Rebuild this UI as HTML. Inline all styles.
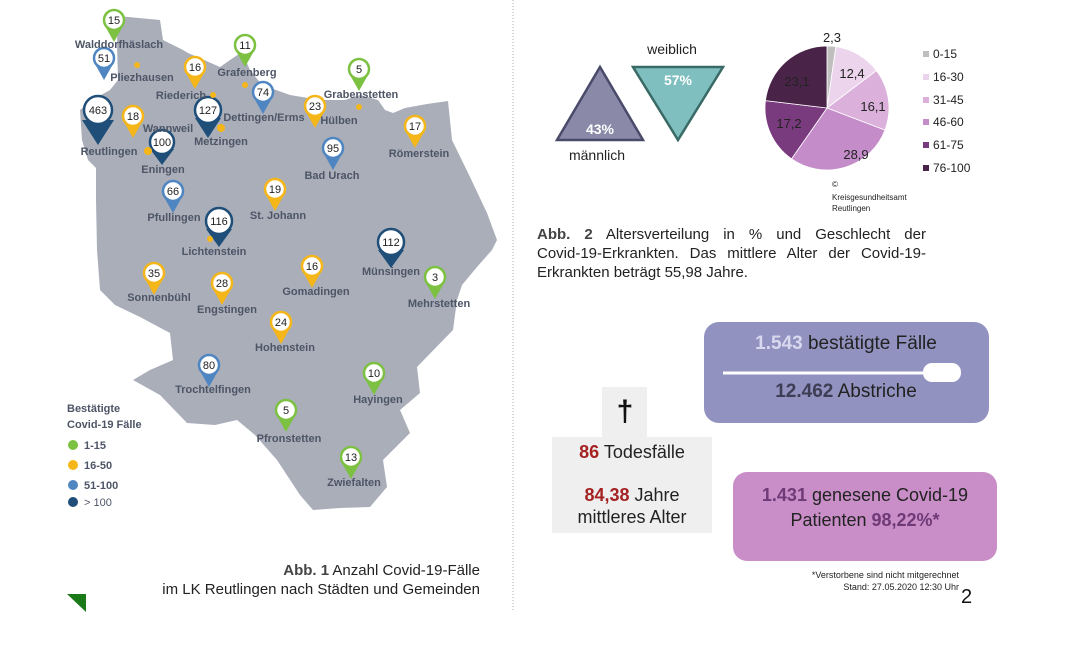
<!DOCTYPE html>
<html><head><meta charset="utf-8"><style>
html,body{margin:0;padding:0;background:#fff;}
svg{display:block;font-family:"Liberation Sans",sans-serif;}
.lb{font-weight:bold;font-size:11px;fill:#4d5566;text-anchor:middle;}
.pn{font-size:11px;fill:#222;text-anchor:middle;}
.cap{position:absolute;left:537px;top:225px;width:389px;font-family:"Liberation Sans",sans-serif;font-size:15px;line-height:19px;color:#222;margin:0;}
.cap div{text-align:justify;text-align-last:justify;white-space:nowrap;}
.cap div.l{text-align-last:left;}
</style></head><body>
<div style="position:relative;width:1073px;height:651px;">
<svg width="1073" height="651" viewBox="0 0 1073 651" xmlns="http://www.w3.org/2000/svg">
<rect width="1073" height="651" fill="#fff"/>
<polygon fill="#a9aeb9" points="118,16 160,20 163,40 183,50 188,53 220,67 230,60 242,52 250,70 262,85 290,95 320,100 345,100 360,95 378,100 385,110 393,113 405,108 427,104 448,101 452,140 470,177 487,213 497,240 492,250 477,267 462,285 457,300 453,330 417,367 420,393 400,410 410,433 383,460 387,487 370,507 340,508 313,510 300,495 277,460 255,435 237,420 215,425 187,423 160,395 133,380 150,370 173,360 170,333 140,317 115,305 100,290 97,250 96,200 96,168 88,160 82,140 80,110 92,100 110,90 118,80 117,43"/>
<line x1="513" y1="0" x2="513" y2="612" stroke="#aaa" stroke-dasharray="1,2"/>
<g stroke-width="2.5">
<g><path d="M105,26 L114,42 L123,26Z" fill="#7cc142"/><circle cx="114" cy="20" r="10" fill="#fff" stroke="#7cc142"/><text x="114" y="24" class="pn">15</text></g>
<g><path d="M95,64 L104,80 L113,64Z" fill="#4f86c1"/><circle cx="104" cy="58" r="10" fill="#fff" stroke="#4f86c1"/><text x="104" y="62" class="pn">51</text></g>
<g><path d="M186,73 L195,89 L204,73Z" fill="#f5b619"/><circle cx="195" cy="67" r="10" fill="#fff" stroke="#f5b619"/><text x="195" y="71" class="pn">16</text></g>
<g><path d="M236,51 L245,67 L254,51Z" fill="#7cc142"/><circle cx="245" cy="45" r="10" fill="#fff" stroke="#7cc142"/><text x="245" y="49" class="pn">11</text></g>
<g><path d="M350,75 L359,91 L368,75Z" fill="#7cc142"/><circle cx="359" cy="69" r="10" fill="#fff" stroke="#7cc142"/><text x="359" y="73" class="pn">5</text></g>
<g><path d="M254,98 L263,114 L272,98Z" fill="#4f86c1"/><circle cx="263" cy="92" r="10" fill="#fff" stroke="#4f86c1"/><text x="263" y="96" class="pn">74</text></g>
<g><path d="M306,112 L315,128 L324,112Z" fill="#f5b619"/><circle cx="315" cy="106" r="10" fill="#fff" stroke="#f5b619"/><text x="315" y="110" class="pn">23</text></g>
<g><path d="M195,118 L208,138 L221,118Z" fill="#1f4e79"/><circle cx="208" cy="110" r="13" fill="#fff" stroke="#1f4e79"/><text x="208" y="114" class="pn">127</text></g>
<g><path d="M82,120 L98,145 L114,120Z" fill="#1f4e79"/><circle cx="98" cy="110" r="14" fill="#fff" stroke="#1f4e79"/><text x="98" y="114" class="pn">463</text></g>
<g><path d="M124,122 L133,138 L142,122Z" fill="#f5b619"/><circle cx="133" cy="116" r="10" fill="#fff" stroke="#f5b619"/><text x="133" y="120" class="pn">18</text></g>
<g><path d="M150,149 L162,165 L174,149Z" fill="#1f4e79"/><circle cx="162" cy="142" r="12" fill="#fff" stroke="#1f4e79"/><text x="162" y="146" class="pn">100</text></g>
<g><path d="M406,132 L415,148 L424,132Z" fill="#f5b619"/><circle cx="415" cy="126" r="10" fill="#fff" stroke="#f5b619"/><text x="415" y="130" class="pn">17</text></g>
<g><path d="M324,154 L333,170 L342,154Z" fill="#4f86c1"/><circle cx="333" cy="148" r="10" fill="#fff" stroke="#4f86c1"/><text x="333" y="152" class="pn">95</text></g>
<g><path d="M164,197 L173,213 L182,197Z" fill="#4f86c1"/><circle cx="173" cy="191" r="10" fill="#fff" stroke="#4f86c1"/><text x="173" y="195" class="pn">66</text></g>
<g><path d="M266,195 L275,211 L284,195Z" fill="#f5b619"/><circle cx="275" cy="189" r="10" fill="#fff" stroke="#f5b619"/><text x="275" y="193" class="pn">19</text></g>
<g><path d="M206,229 L219,247 L232,229Z" fill="#1f4e79"/><circle cx="219" cy="221" r="13" fill="#fff" stroke="#1f4e79"/><text x="219" y="225" class="pn">116</text></g>
<g><path d="M378,250 L391,268 L404,250Z" fill="#1f4e79"/><circle cx="391" cy="242" r="13" fill="#fff" stroke="#1f4e79"/><text x="391" y="246" class="pn">112</text></g>
<g><path d="M145,279 L154,295 L163,279Z" fill="#f5b619"/><circle cx="154" cy="273" r="10" fill="#fff" stroke="#f5b619"/><text x="154" y="277" class="pn">35</text></g>
<g><path d="M213,289 L222,305 L231,289Z" fill="#f5b619"/><circle cx="222" cy="283" r="10" fill="#fff" stroke="#f5b619"/><text x="222" y="287" class="pn">28</text></g>
<g><path d="M303,272 L312,288 L321,272Z" fill="#f5b619"/><circle cx="312" cy="266" r="10" fill="#fff" stroke="#f5b619"/><text x="312" y="270" class="pn">16</text></g>
<g><path d="M426,283 L435,299 L444,283Z" fill="#7cc142"/><circle cx="435" cy="277" r="10" fill="#fff" stroke="#7cc142"/><text x="435" y="281" class="pn">3</text></g>
<g><path d="M272,328 L281,344 L290,328Z" fill="#f5b619"/><circle cx="281" cy="322" r="10" fill="#fff" stroke="#f5b619"/><text x="281" y="326" class="pn">24</text></g>
<g><path d="M200,371 L209,387 L218,371Z" fill="#4f86c1"/><circle cx="209" cy="365" r="10" fill="#fff" stroke="#4f86c1"/><text x="209" y="369" class="pn">80</text></g>
<g><path d="M365,379 L374,395 L383,379Z" fill="#7cc142"/><circle cx="374" cy="373" r="10" fill="#fff" stroke="#7cc142"/><text x="374" y="377" class="pn">10</text></g>
<g><path d="M277,416 L286,432 L295,416Z" fill="#7cc142"/><circle cx="286" cy="410" r="10" fill="#fff" stroke="#7cc142"/><text x="286" y="414" class="pn">5</text></g>
<g><path d="M342,463 L351,479 L360,463Z" fill="#7cc142"/><circle cx="351" cy="457" r="10" fill="#fff" stroke="#7cc142"/><text x="351" y="461" class="pn">13</text></g>
</g>
<g fill="#f5b619"><circle cx="137" cy="65" r="3"/><circle cx="213" cy="95" r="3"/><circle cx="245" cy="85" r="3"/><circle cx="359" cy="107" r="3"/><circle cx="221" cy="128" r="4"/><circle cx="148" cy="151" r="4"/><circle cx="210" cy="239" r="3"/></g>
<text x="119" y="48" class="lb">Walddorfhäslach</text>
<text x="142" y="81" class="lb">Pliezhausen</text>
<text x="181" y="99" class="lb">Riederich</text>
<text x="247" y="76" class="lb">Grafenberg</text>
<text x="361" y="98" class="lb">Grabenstetten</text>
<text x="264" y="121" class="lb">Dettingen/Erms</text>
<text x="339" y="124" class="lb">Hülben</text>
<text x="168" y="132" class="lb">Wannweil</text>
<text x="221" y="145" class="lb">Metzingen</text>
<text x="109" y="155" class="lb">Reutlingen</text>
<text x="163" y="173" class="lb">Eningen</text>
<text x="419" y="157" class="lb">Römerstein</text>
<text x="332" y="179" class="lb">Bad Urach</text>
<text x="174" y="221" class="lb">Pfullingen</text>
<text x="278" y="219" class="lb">St. Johann</text>
<text x="214" y="255" class="lb">Lichtenstein</text>
<text x="391" y="275" class="lb">Münsingen</text>
<text x="439" y="307" class="lb">Mehrstetten</text>
<text x="159" y="301" class="lb">Sonnenbühl</text>
<text x="227" y="313" class="lb">Engstingen</text>
<text x="316" y="295" class="lb">Gomadingen</text>
<text x="285" y="351" class="lb">Hohenstein</text>
<text x="213" y="393" class="lb">Trochtelfingen</text>
<text x="378" y="403" class="lb">Hayingen</text>
<text x="289" y="442" class="lb">Pfronstetten</text>
<text x="354" y="486" class="lb">Zwiefalten</text>
<g font-size="11" fill="#4d5566" font-weight="bold">
<text x="67" y="412">Bestätigte</text><text x="67" y="428">Covid-19 Fälle</text>
<circle cx="73" cy="445" r="5" fill="#7cc142"/><text x="84" y="449">1-15</text>
<circle cx="73" cy="465" r="5" fill="#f5b619"/><text x="84" y="469">16-50</text>
<circle cx="73" cy="485" r="5" fill="#4f86c1"/><text x="84" y="489">51-100</text>
<circle cx="73" cy="502" r="5" fill="#1f4e79"/><text x="84" y="506" font-weight="normal">&gt; 100</text>
</g>
<polygon points="67,594 86,594 86,612" fill="#1a7a1a"/>
<text x="480" y="575" font-size="15" fill="#222" text-anchor="end"><tspan font-weight="bold" fill="#444">Abb. 1</tspan> Anzahl Covid-19-Fälle</text>
<text x="480" y="594" font-size="15" fill="#222" text-anchor="end">im LK Reutlingen nach  Städten und Gemeinden</text>
<polygon points="557,140 643,140 600,67" fill="#8a8aa8" stroke="#4a4a6a" stroke-width="2.5"/>
<polygon points="633,67 723,67 678,140" fill="#7fbfbf" stroke="#3a6a66" stroke-width="2.5"/>
<text x="600" y="134" font-size="14" font-weight="bold" fill="#fff" text-anchor="middle">43%</text>
<text x="678" y="85" font-size="14" font-weight="bold" fill="#fff" text-anchor="middle">57%</text>
<text x="672" y="54" font-size="14" fill="#222" text-anchor="middle">weiblich</text>
<text x="597" y="160" font-size="14" fill="#222" text-anchor="middle">männlich</text>
<g stroke="#fff" stroke-width="0.8">
<path d="M827,108 L827,46 A62,62 0 0 1 835.93,46.64Z" fill="#bfbfbf"/>
<path d="M827,108 L835.93,46.64 A62,62 0 0 1 876.46,70.61Z" fill="#ecd5ec"/>
<path d="M827,108 L876.46,70.61 A62,62 0 0 1 884.93,130.10Z" fill="#dbb1db"/>
<path d="M827,108 L884.93,130.10 A62,62 0 0 1 791.51,158.84Z" fill="#c48cc8"/>
<path d="M827,108 L791.51,158.84 A62,62 0 0 1 765.44,100.62Z" fill="#7a3a7e"/>
<path d="M827,108 L765.44,100.62 A62,62 0 0 1 827,46Z" fill="#4a2448"/>
</g>
<g font-size="13" fill="#222" text-anchor="middle">
<text x="832" y="42">2,3</text><text x="852" y="78">12,4</text><text x="873" y="111">16,1</text>
<text x="856" y="159">28,9</text><text x="789" y="128">17,2</text><text x="797" y="86">23,1</text>
</g>
<g font-size="12" fill="#222">
<rect x="923" y="51" width="6" height="6" fill="#bfbfbf"/><text x="933" y="58">0-15</text>
<rect x="923" y="74" width="6" height="6" fill="#ecd5ec"/><text x="933" y="81">16-30</text>
<rect x="923" y="97" width="6" height="6" fill="#dbb1db"/><text x="933" y="104">31-45</text>
<rect x="923" y="119" width="6" height="6" fill="#c48cc8"/><text x="933" y="126">46-60</text>
<rect x="923" y="142" width="6" height="6" fill="#7a3a7e"/><text x="933" y="149">61-75</text>
<rect x="923" y="165" width="6" height="6" fill="#4a2448"/><text x="933" y="172">76-100</text>
</g>
<g font-size="8" fill="#222"><text x="832" y="187">©</text><text x="832" y="200">Kreisgesundheitsamt</text><text x="832" y="211">Reutlingen</text></g>
<rect x="704" y="322" width="285" height="101" rx="15" fill="#9192bf"/>
<line x1="723" y1="373" x2="935" y2="373" stroke="#fff" stroke-width="3"/>
<rect x="923" y="363" width="38" height="19" rx="9" fill="#fff"/>
<text x="846" y="349" font-size="19" fill="#222" text-anchor="middle"><tspan font-weight="bold" fill="#d8d8ee">1.543</tspan> bestätigte Fälle</text>
<text x="846" y="397" font-size="19" fill="#222" text-anchor="middle"><tspan font-weight="bold" fill="#3d3d55">12.462</tspan> Abstriche</text>
<rect x="602" y="387" width="45" height="52" fill="#efefef"/>
<rect x="552" y="437" width="160" height="96" fill="#efefef"/>
<text x="625" y="421" font-size="30" font-weight="bold" fill="#111" text-anchor="middle">†</text>
<text x="632" y="458" font-size="18" fill="#222" text-anchor="middle"><tspan font-weight="bold" fill="#a52222">86</tspan> Todesfälle</text>
<text x="632" y="501" font-size="18" fill="#222" text-anchor="middle"><tspan font-weight="bold" fill="#a52222">84,38</tspan> Jahre</text>
<text x="632" y="523" font-size="18" fill="#222" text-anchor="middle">mittleres Alter</text>
<rect x="733" y="472" width="264" height="89" rx="14" fill="#c98ec8"/>
<text x="865" y="501" font-size="18" fill="#222" text-anchor="middle"><tspan font-weight="bold" fill="#6e3a78">1.431</tspan> genesene Covid-19</text>
<text x="865" y="526" font-size="18" fill="#222" text-anchor="middle">Patienten <tspan font-weight="bold" fill="#6e3a78">98,22%*</tspan></text>
<text x="959" y="578" font-size="9" fill="#222" text-anchor="end">*Verstorbene sind nicht mitgerechnet</text>
<text x="959" y="590" font-size="9" fill="#222" text-anchor="end">Stand: 27.05.2020 12:30 Uhr</text>
<text x="961" y="603" font-size="20" fill="#111">2</text>
</svg>
<div class="cap">
<div><b style="color:#444">Abb. 2</b> Altersverteilung in % und Geschlecht der</div>
<div>Covid-19-Erkrankten. Das mittlere Alter der Covid-19-</div>
<div class="l">Erkrankten beträgt 55,98 Jahre.</div>
</div>
</div>
</body></html>
